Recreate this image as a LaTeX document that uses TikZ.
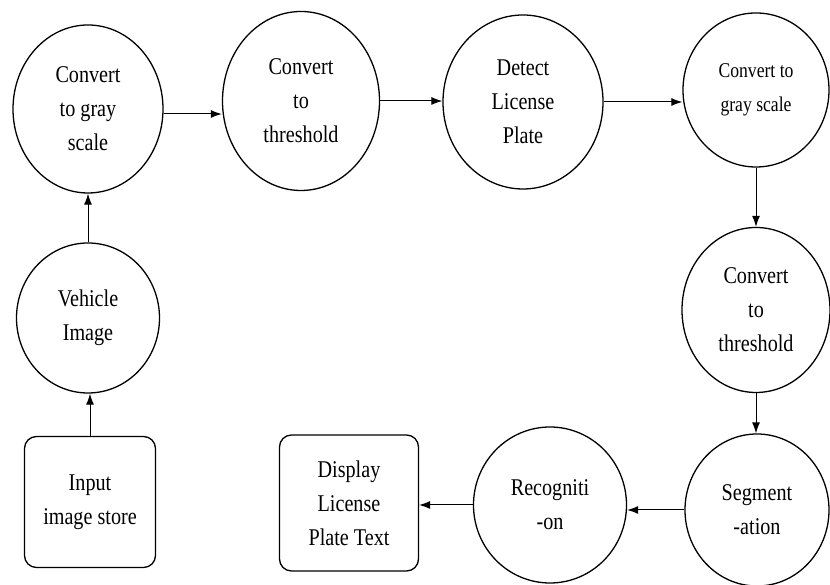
\documentclass[tikz,border=0pt]{standalone}
\usepackage{fontspec}
\setmainfont{Liberation Serif}[FakeStretch=0.84]
\usetikzlibrary{arrows.meta,shapes.geometric}

\tikzset{
    proc/.style={draw=black, ellipse, line width=1.3pt, inner sep=0pt, align=center,
        font=\fontsize{24}{34}\selectfont},
    store/.style={draw=black, rectangle, rounded corners=12pt, line width=1.3pt, inner sep=0pt,
        align=center, font=\fontsize{24}{34}\selectfont},
    arr/.style={-{Latex[length=11pt,width=8pt]}, black, line width=1pt}
}

\begin{document}
\begin{tikzpicture}[x=1pt, y=1pt]

        \useasboundingbox (0,0) rectangle (830,585);

        % top row
        \node[proc, minimum width=150pt, minimum height=168pt] (gray1) at (88,476) {Convert\\to gray\\scale};
        \node[proc, minimum width=157pt, minimum height=179pt] (thresh1) at (301,484) {Convert\\to\\threshold};
        \node[proc, minimum width=160pt, minimum height=174pt] (detect) at (523,483) {Detect\\License\\Plate};
        \node[proc, minimum width=146pt, minimum height=154pt, font=\fontsize{21}{34}\selectfont] (gray2) at (756,495) {Convert to\\gray scale};

        % right column and bottom row
        \node[proc, minimum width=148pt, minimum height=165pt] (thresh2) at (756,275) {Convert\\to\\threshold};
        \node[proc, minimum width=144pt, minimum height=152pt] (seg) at (757,75) {Segment\\-ation};
        \node[proc, minimum width=153pt, minimum height=156pt] (recog) at (550,80) {Recogniti\\-on};
        \node[store, minimum width=139pt, minimum height=136pt] (disp) at (349,82) {Display\\License\\Plate Text};

        % left column
        \node[proc, minimum width=143pt, minimum height=150pt] (vehicle) at (88,267) {Vehicle\\Image};
        \node[store, minimum width=131pt, minimum height=131pt] (input) at (90,83) {Input\\image store};

        \draw[arr] (input.north) -- (input.north |- vehicle.south);
        \draw[arr] (vehicle.north) -- (vehicle.north |- gray1.south);
        \draw[arr] ([yshift=-5pt]gray1.east) -- ([yshift=-5pt]gray1.east -| thresh1.west);
        \draw[arr] (thresh1.east) -- (thresh1.east -| detect.west);
        \draw[arr] (detect.east) -- (detect.east -| gray2.west);
        \draw[arr] (gray2.south) -- (gray2.south |- thresh2.north);
        \draw[arr] (thresh2.south) -- (thresh2.south |- seg.north);
        \draw[arr] (seg.west) -- (seg.west -| recog.east);
        \draw[arr] (recog.west) -- (recog.west -| disp.east);

\end{tikzpicture}
\end{document}
